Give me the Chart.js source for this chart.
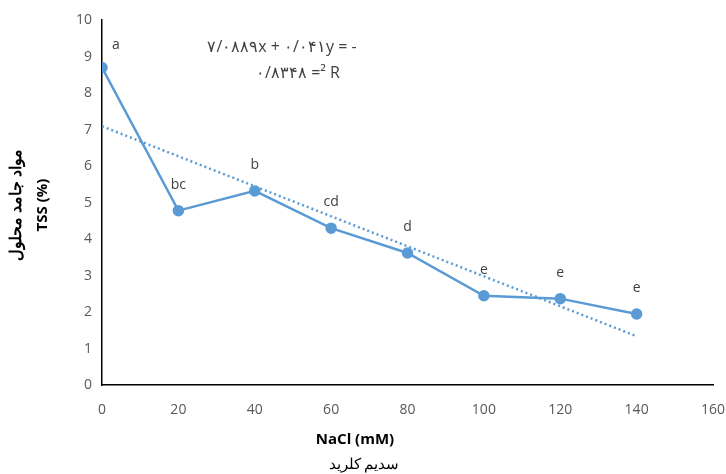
<!DOCTYPE html>
<html>
<head>
<meta charset="utf-8">
<script src="https://cdn.jsdelivr.net/npm/chart.js@4.4.1/dist/chart.umd.min.js"></script>
<style>
  body { margin: 0; background: #fff; }
  #wrap { width: 726px; height: 474px; }
</style>
</head>
<body>
<div id="wrap"><canvas id="tssChart"></canvas></div>
<script>
// values
var nacl = [0, 20, 40, 60, 80, 100, 120, 140];
var tss = [8.7, 4.78, 5.32, 4.3, 3.62, 2.45, 2.37, 1.95];
var letters = ['a', 'bc', 'b', 'cd', 'd', 'e', 'e', 'e'];
var trendX = [0, 140];
var trendY = [7.09, 1.34];
var yTitle = ['مواد جامد محلول', 'TSS (%)'];
var xTitle = 'NaCl (mM)';
var xSubtitle = 'سدیم کلرید';
var eqLine1 = '\u202D\u06F7/\u06F0\u06F8\u06F8\u06F9x + \u06F0/\u06F0\u06F4\u06F1y = -\u202C';
var eqLine2 = '\u202D\u06F0/\u06F8\u06F3\u06F4\u06F8 =\u00B2 R\u202C';
var blue = '#5B9BD5';
var fontFam = '"Open Sans", "Liberation Sans", sans-serif';

function toPoints(xs, ys) {
  var pts = [];
  for (var i = 0; i < xs.length; i++) pts.push({ x: xs[i], y: ys[i] });
  return pts;
}

var labelsPlugin = {
  id: 'letters',
  afterDatasetsDraw: function(chart) {
    var ctx = chart.ctx;
    var meta = chart.getDatasetMeta(0);
    ctx.save();
    ctx.font = '14px ' + fontFam;
    ctx.fillStyle = '#404040';
    ctx.textAlign = 'center';
    ctx.textBaseline = 'middle';
    meta.data.forEach(function(pt, i) {
      var dx = i === 0 ? 14 : 0;
      var dy = i === 0 ? -22 : -26;
      ctx.fillText(letters[i], pt.x + dx, pt.y + dy);
    });
    // equation text
    ctx.font = '16px ' + fontFam;
    ctx.fillText(eqLine1, 282, 47);
    ctx.fillText(eqLine2, 298, 73);
    // x titles
    ctx.fillStyle = '#000';
    ctx.font = 'bold 15px ' + fontFam;
    ctx.fillText(xTitle, 355, 440);
    ctx.font = '15px ' + fontFam;
    ctx.fillText(xSubtitle, 364, 465);
    // rotated y title, two lines
    ctx.translate(0, 205);
    ctx.rotate(-Math.PI / 2);
    ctx.font = 'bold 16px ' + fontFam;
    ctx.fillText(yTitle[0], 0, 16);
    ctx.font = 'bold 15px ' + fontFam;
    ctx.fillText(yTitle[1], 0, 43);
    ctx.restore();
  }
};

new Chart(document.getElementById('tssChart'), {
  type: 'scatter',
  data: {
    datasets: [
      {
        data: toPoints(nacl, tss),
        showLine: true,
        borderColor: blue,
        backgroundColor: blue,
        borderWidth: 2.5,
        pointRadius: 4.5,
        pointHoverRadius: 4.5,
        tension: 0,
        order: 1
      },
      {
        data: toPoints(trendX, trendY),
        showLine: true,
        borderColor: blue,
        borderWidth: 2.5,
        borderDash: [2, 3],
        pointRadius: 0,
        order: 2
      }
    ]
  },
  options: {
    responsive: true,
    maintainAspectRatio: false,
    animation: false,
    layout: { padding: { top: 20, right: 0, bottom: 40, left: 10 } },
    plugins: { legend: { display: false }, tooltip: { enabled: false } },
    scales: {
      x: {
        type: 'linear',
        min: 0, max: 160,
        ticks: { stepSize: 20, color: '#595959', font: { family: fontFam, size: 14 }, padding: 16 },
        grid: { display: false, drawTicks: false },
        border: { color: '#000', width: 1.5 },
        afterFit: function(scale) { scale.paddingRight = 13; }
      },
      y: {
        min: 0, max: 10,
        ticks: { stepSize: 1, color: '#595959', font: { family: fontFam, size: 14 }, padding: 10 },
        grid: { display: false, drawTicks: false },
        border: { color: '#000', width: 1.5 },
        afterFit: function(scale) { scale.width = 92; }
      }
    }
  },
  plugins: [labelsPlugin]
});
</script>
</body>
</html>
